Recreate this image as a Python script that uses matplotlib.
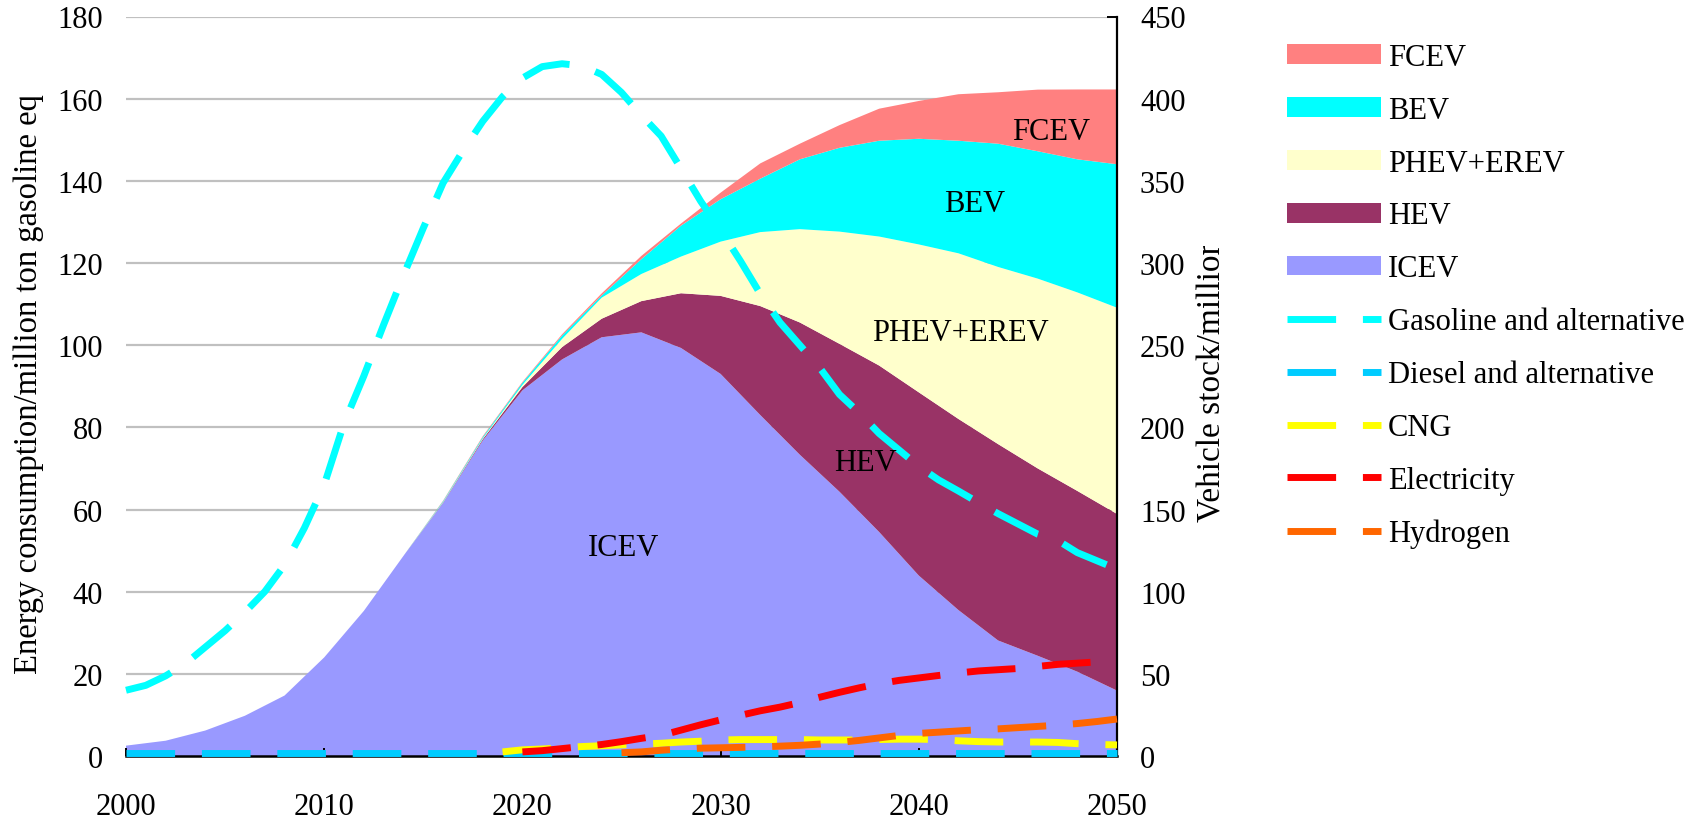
import numpy as np
import matplotlib
matplotlib.use("Agg")
import matplotlib.pyplot as plt
from matplotlib.patches import Patch
from matplotlib.lines import Line2D
from matplotlib.transforms import Bbox

plt.rcParams['font.family'] = ['Liberation Serif', 'DejaVu Serif']

# ---------------- data ----------------
# Vehicle stock (million), every two years
years_stock = list(range(2000, 2051, 2))
icev = [6.3, 9.3, 15.5, 24.5, 36.8, 60.0, 88.3, 121.8, 154.0, 192.0, 222.5, 241.3, 254.8,
        257.8, 248.3, 232.5, 207.5, 183.3, 160.8, 136.3, 109.8, 88.8, 70.3, 61.0, 51.3, 39.8]
hev = [0, 0, 0, 0, 0, 0, 0, 0, 0.3, 0.8, 2.0, 7.5, 11.3,
       19.0, 33.3, 47.5, 66.3, 80.5, 90.0, 101.3, 111.5, 116.3, 119.5, 114.0, 110.0, 107.5]
phev_erev = [0, 0, 0, 0, 0, 0, 0, 0, 0.3, 0.5, 1.3, 5.0, 12.8,
             16.5, 22.3, 33.0, 45.0, 56.8, 68.3, 78.5, 90.0, 100.8, 107.8, 115.5, 120.8, 125.5]
bev = [0, 0, 0, 0, 0, 0, 0, 0, 0.5, 0.8, 1.3, 2.0, 1.3,
       9.0, 18.8, 25.8, 32.5, 42.5, 51.0, 58.3, 64.3, 68.5, 75.0, 77.5, 81.0, 87.3]
fcev = [0, 0, 0, 0, 0, 0, 0, 0, 0.3, 0.5, 0.5, 0.8, 1.3,
        2.0, 1.3, 4.0, 9.3, 9.5, 13.8, 19.5, 23.0, 28.3, 31.3, 37.5, 42.5, 45.5]

# Energy consumption (million ton gasoline eq), yearly
years_energy = list(range(2000, 2051))
gasoline = [16.0, 17.2, 19.5, 22.5, 26.5, 30.5, 35.0, 40.0, 46.5, 55.5,
            66.0, 81.0, 92.5, 105.0, 117.0, 128.5, 139.5, 147.3, 154.5, 160.5,
            165.0, 167.8, 168.5, 168.0, 165.9, 161.5, 156.0, 150.9, 143.0, 135.0,
            128.0, 120.5, 112.5, 105.5, 100.0, 94.5, 88.0, 83.5, 78.5, 74.5,
            70.5, 67.2, 64.5, 61.7, 59.0, 56.5, 54.0, 52.5, 49.5, 47.5, 45.5]
diesel = [0.7, 0.7, 0.7, 0.7, 0.7, 0.7, 0.7, 0.7, 0.7, 0.7,
          0.7, 0.7, 0.7, 0.7, 0.7, 0.7, 0.7, 0.7, 0.7, 0.7,
          0.7, 0.7, 0.7, 0.7, 0.7, 0.7, 0.7, 0.7, 0.7, 0.7,
          0.7, 0.7, 0.7, 0.7, 0.7, 0.7, 0.7, 0.7, 0.7, 0.7,
          0.7, 0.7, 0.7, 0.7, 0.7, 0.7, 0.7, 0.7, 0.7, 0.7, 0.7]
nan = np.nan
cng = [nan] * 19 + [1.0, 1.5, 1.7, 2.0, 2.3, 2.5, 2.7, 2.9, 3.1, 3.4,
                    3.6, 3.9, 4.0, 4.0, 4.0, 4.0, 3.9, 3.9, 3.9, 4.0,
                    4.1, 4.1, 4.0, 3.7, 3.5, 3.4, 3.4, 3.4, 3.3, 3.0,
                    2.8, 2.7]
electricity = [nan] * 20 + [1.0, 1.3, 1.8, 2.3, 2.8, 3.5, 4.3, 5.0, 6.3, 7.6,
                            8.8, 9.9, 11.0, 11.9, 13.0, 14.3, 15.5, 16.6, 17.6, 18.4,
                            19.0, 19.6, 20.2, 20.7, 21.0, 21.3, 21.8, 22.3, 22.6, 22.9, 23.2]
hydrogen = [nan] * 25 + [0.8, 1.0, 1.4, 1.7, 1.9, 2.0, 2.1, 2.2, 2.4, 2.6,
                         2.9, 3.3, 3.8, 4.4, 5.0, 5.5, 5.8, 6.1, 6.4, 6.6,
                         6.9, 7.2, 7.5, 7.9, 8.4, 9.0]

area_labels = ["ICEV", "HEV", "PHEV+EREV", "BEV", "FCEV"]
area_colors = ["#9999FF", "#993366", "#FFFFCC", "#00FFFF", "#FF8080"]
line_labels = ["Gasoline and alternative", "Diesel and alternative", "CNG", "Electricity", "Hydrogen"]
line_colors = ["#00FFFF", "#00CCFF", "#FFFF00", "#FF0000", "#FF6600"]

x_ticks = [2000, 2010, 2020, 2030, 2040, 2050]
left_ticks = list(range(0, 181, 20))
right_ticks = list(range(0, 451, 50))

# ---------------- figure ----------------
W, H = 1700, 820
fig = plt.figure(figsize=(W / 100, H / 100), dpi=100)
ax = fig.add_axes([126 / W, 1 - 757 / H, (1117 - 126) / W, (757 - 17.5) / H])
ax2 = ax.twinx()

# stacked areas on the vehicle stock axis (drawn underneath)
ax2.stackplot(years_stock, icev, hev, phev_erev, bev, fcev,
              colors=area_colors, linewidth=0, zorder=2)
ax2.set_ylim(0, 450)
ax2.set_yticks(right_ticks)
ax2.yaxis.grid(True, color="#C0C0C0", linewidth=1.6)
ax2.set_axisbelow(True)
ax2.tick_params(axis='y', direction='in', length=7.2, width=1.4,
                labelsize=22, pad=16.5)
for s in ["top", "left"]:
    ax2.spines[s].set_visible(False)
ax2.spines["right"].set_linewidth(1.6)
ax2.spines["bottom"].set_linewidth(1.8)

# lines on the energy axis (drawn on top)
ax.set_zorder(ax2.get_zorder() + 1)
ax.patch.set_visible(False)
lw = 5.0
dash = (0, (7.0, 3.86))
series = [gasoline, diesel, cng, electricity, hydrogen]
for vals, c in zip(series, line_colors):
    ax.plot(years_energy, vals, color=c, lw=lw, linestyle=dash,
            dash_capstyle='butt', zorder=3, clip_on=False)
ax.set_xlim(2000, 2050)
ax.set_ylim(0, 180)
ax.set_yticks(left_ticks)
ax.set_xticks(x_ticks)
ax.tick_params(axis='y', length=0, labelsize=22, pad=16.5)
ax.tick_params(axis='x', direction='in', length=6, width=1.4, labelsize=22, pad=26)
for s in ax.spines.values():
    s.set_visible(False)

# area labels
ax.text(2046.7, 152.1, "FCEV", fontsize=22, ha='center', va='center', zorder=4)
ax.text(2042.8, 134.5, "BEV", fontsize=22, ha='center', va='center', zorder=4)
ax.text(2042.1, 103.1, "PHEV+EREV", fontsize=22, ha='center', va='center', zorder=4)
ax.text(2037.3, 71.5, "HEV", fontsize=22, ha='center', va='center', zorder=4)
ax.text(2025.1, 50.8, "ICEV", fontsize=22, ha='center', va='center', zorder=4)

# axis titles
fig.text(29 / W, 1 - 384 / H, "Energy consumption/million ton gasoline eq",
         rotation=90, ha='center', va='center', fontsize=23.5)
t = fig.text(1212 / W, 1 - 522 / H, "Vehicle stock/million",
             rotation=90, ha='center', va='bottom', fontsize=24)
t.set_clip_box(Bbox.from_extents(0, 0, W, H - 247))
t.set_clip_on(True)

# legend
handles = [Patch(facecolor=c, edgecolor='none', label=l)
           for l, c in zip(area_labels[::-1], area_colors[::-1])]
handles += [Line2D([], [], color=c, lw=lw, linestyle=dash, dash_capstyle='butt', label=l)
            for l, c in zip(line_labels, line_colors)]
fig.legend(handles=handles, loc='upper left', bbox_to_anchor=(1287 / W, 1 - 44 / H),
           bbox_transform=fig.transFigure, frameon=False, fontsize=22,
           handlelength=3.08, handleheight=0.62, handletextpad=0.23,
           labelspacing=0.78, borderpad=0, borderaxespad=0)

fig.savefig("out.png", dpi=100)
